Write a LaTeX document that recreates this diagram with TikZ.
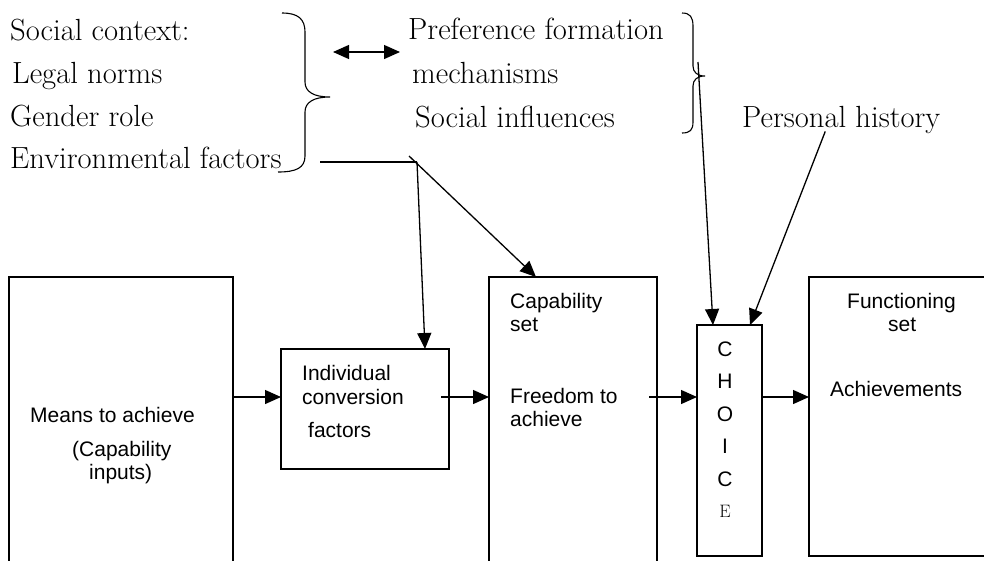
\documentclass[tikz,border=0pt]{standalone}
\usepackage{fontspec}
\newfontfamily\arialfont{Liberation Sans}
\usetikzlibrary{arrows.meta,calc}

\tikzset{
  box/.style={draw, line width=1.3pt, inner sep=0pt, outer sep=0pt, anchor=north west},
  sanstext/.style={font=\arialfont\fontsize{21}{25}\selectfont, inner sep=0pt, anchor=base west},
  serftext/.style={font=\fontsize{30.6}{36}\selectfont, inner sep=0pt, anchor=base west},
  flow/.style={line width=1.3pt, -{Triangle[length=16pt,width=14pt]}},
  plain/.style={line width=1.3pt}
}

\begin{document}
\begin{tikzpicture}[x=1pt,y=-1pt]
  \clip (0,0) rectangle (984,560);
  % boxes of the chain
  \node[box, minimum width=224, minimum height=290] (means) at (9,277) {};
  \node[box, minimum width=168, minimum height=120] (conv) at (281,349) {};
  \node[box, minimum width=168, minimum height=290] (capset) at (489,277) {};
  \node[box, minimum width=65, minimum height=231] (choice) at (697,325) {};
  \node[box, minimum width=200, minimum height=279] (funcset) at (809,277) {};

  % texts in the boxes
  \node[sanstext] (means1) at (30,422) {Means to achieve};
  \node[sanstext] (means2) at (72,456) {(Capability};
  \node[sanstext] (means3) at (89,479) {inputs)};
  \node[sanstext] (conv1) at (302,380) {Individual};
  \node[sanstext] (conv2) at (302,404) {conversion};
  \node[sanstext] (conv3) at (308,437) {factors};
  \node[sanstext] (cap1) at (510,308) {Capability};
  \node[sanstext] (cap2) at (510,331) {set};
  \node[sanstext] (cap3) at (510,403) {Freedom to};
  \node[sanstext] (cap4) at (510,426) {achieve};
  \node[sanstext] (func1) at (847,308) {Functioning};
  \node[sanstext] (func2) at (888,331) {set};
  \node[sanstext] (func3) at (830,396) {Achievements};
  \foreach \ch [count=\i] in {C,H,O,I,C}
    \node[sanstext, anchor=base] (choice\i) at (725,{356+32.5*(\i-1)}) {\ch};
  \node[font=\fontsize{18}{20}\selectfont, inner sep=0pt, anchor=base] (choice6) at (725,517) {E};

  % social context and preferences
  \node[serftext] (soc) at (10,40) {Social context:};
  \node[serftext] (legal) at (12,83) {Legal norms};
  \node[serftext] (gender) at (10,126) {Gender role};
  \node[serftext] (envf) at (10,168) {Environmental factors};
  \node[serftext] (pref) at (408,39) {Preference formation};
  \node[serftext] (mech) at (412,83) {mechanisms};
  \node[serftext] (socinf) at (415,127) {Social influences};
  \node[serftext] (hist) at (742,127) {Personal history};

  % braces
  \draw[line width=1.1pt] (282,13) .. controls (298,13) and (305,19) .. (305,32)
    -- (305,82) .. controls (305,92) and (314,97) .. (330,97)
    .. controls (314,97) and (305,102) .. (305,112)
    -- (305,156) .. controls (305,168) and (296,172) .. (278,172);
  \draw[line width=1.1pt] (682,13) .. controls (690,13) and (693,17) .. (693,26)
    -- (693,66) .. controls (693,72) and (697,76) .. (705,76)
    .. controls (697,76) and (693,80) .. (693,86)
    -- (693,122) .. controls (693,130) and (690,133) .. (682,133);

  % links
  \coordinate (linkL) at (333,52);
  \coordinate (linkR) at (400,52);
  \draw[plain, {Triangle[length=16pt,width=14pt]}-{Triangle[length=16pt,width=14pt]}] (linkL) -- (linkR);

  \coordinate (envstart) at (320,162);
  \coordinate (envjoint) at (417,162);
  \draw[plain] (envstart) -- (envjoint);
  \draw[flow] (envjoint) -- ($(conv.north east)+(-24,0)$);
  \draw[flow] ($(envjoint)+(-8,-6)$) -- ($(capset.north west)+(47,0)$);

  \coordinate (prefstart) at (698,62);
  \draw[flow] (prefstart) -- ($(choice.north west)+(16,0)$);
  \draw[flow] ($(hist.south)+(-16,-2)$) -- ($(choice.north east)+(-12,0)$);

  % main chain
  \coordinate (row) at (0,397);
  \draw[flow] (means.east |- row) -- (conv.west |- row);
  \draw[flow] ($(conv.east |- row)+(-8,0)$) -- (capset.west |- row);
  \draw[flow] ($(capset.east |- row)+(-8,0)$) -- (choice.west |- row);
  \draw[flow] (choice.east |- row) -- (funcset.west |- row);
\end{tikzpicture}
\end{document}
